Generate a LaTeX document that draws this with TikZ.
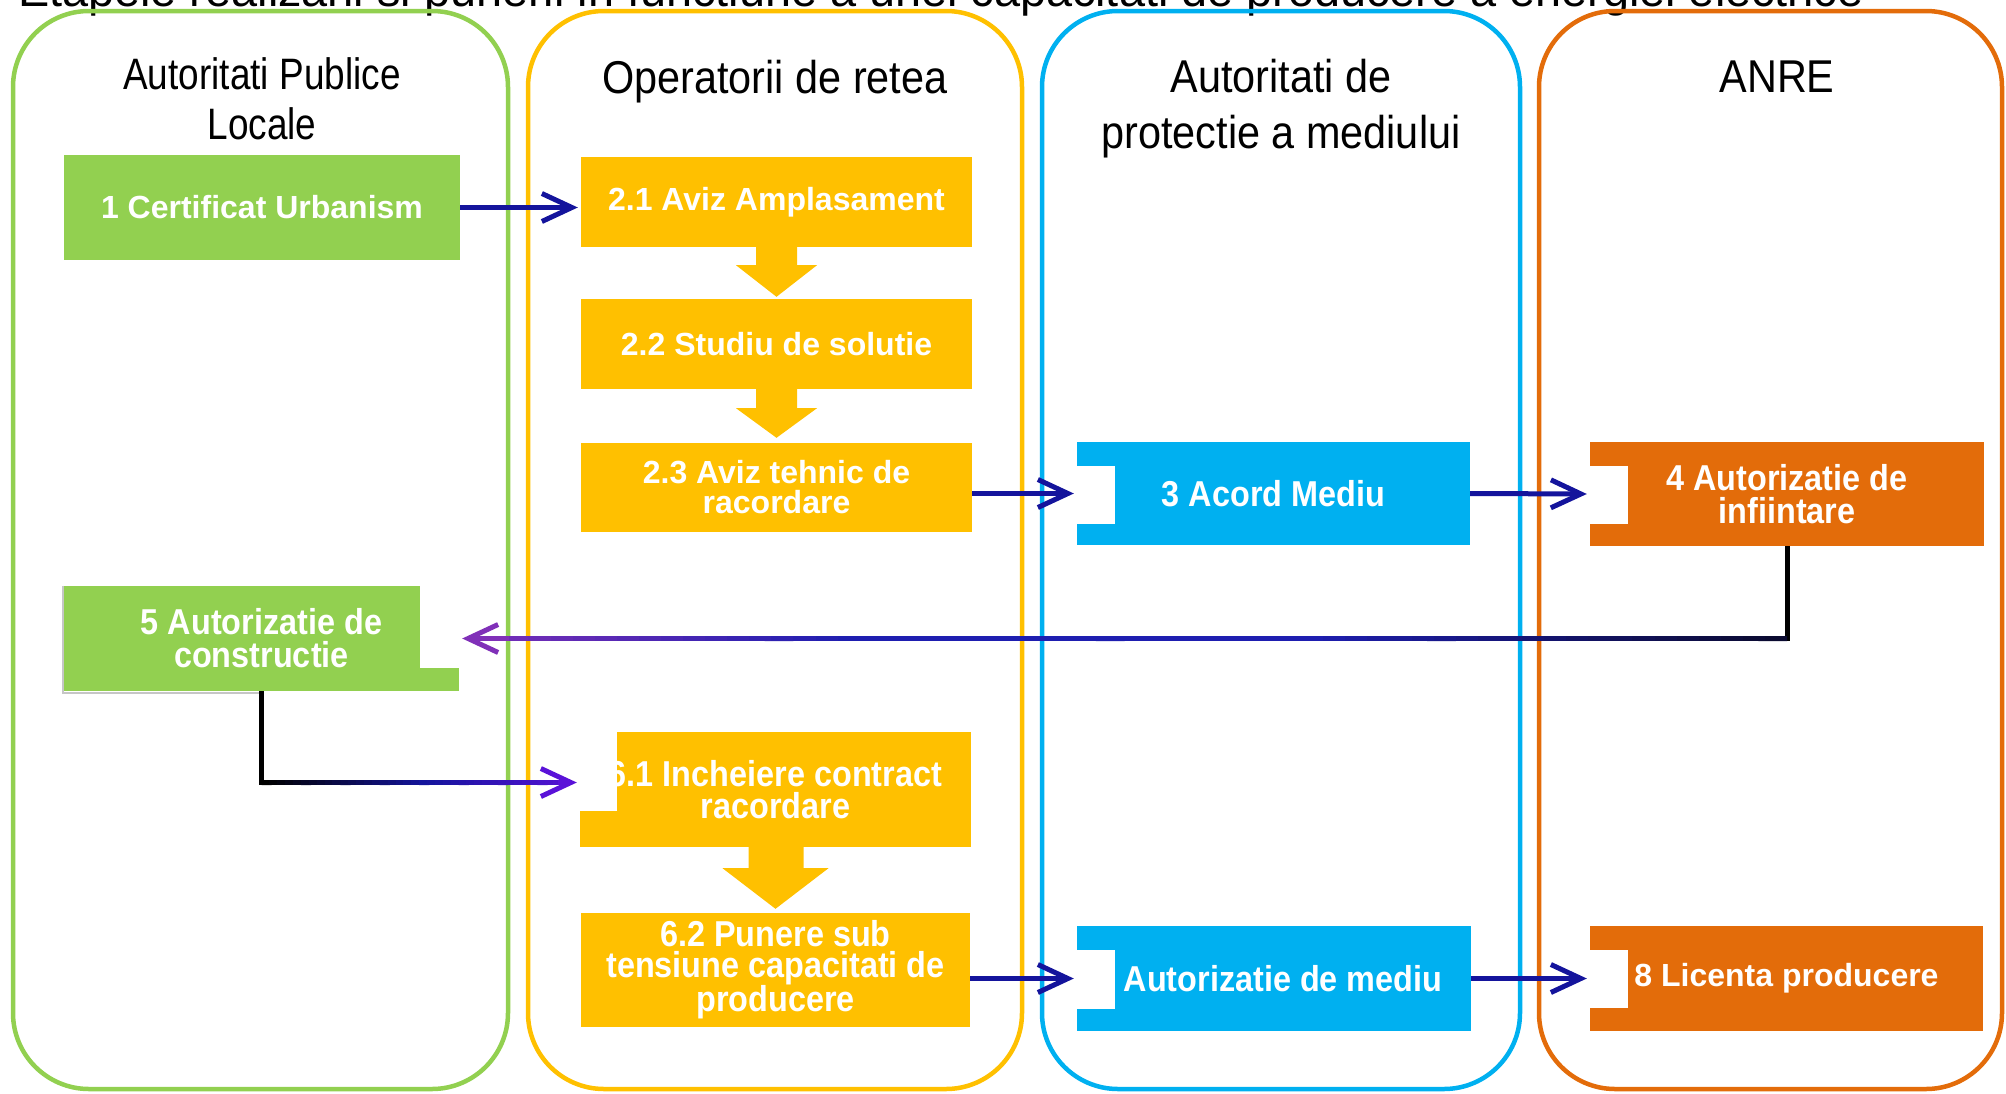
\documentclass[tikz,border=0pt]{standalone}
\usepackage{fontspec}
\usepackage{graphicx}
\setmainfont{Liberation Sans}
\newfontfamily\narrowfont{Liberation Sans}[FakeStretch=0.9]
\newfontfamily\narrowerfont{Liberation Sans}[FakeStretch=0.84]
\usetikzlibrary{arrows.meta,calc}
\definecolor{cgreen}{HTML}{92D050}
\definecolor{cyellow}{HTML}{FFC000}
\definecolor{cblue}{HTML}{00B0F0}
\definecolor{corange}{HTML}{E36C0A}
\definecolor{cnavy}{HTML}{14149C}
\definecolor{cdark}{HTML}{0A0A30}
\definecolor{cmidblue}{HTML}{1E1EB0}
\definecolor{cpurple}{HTML}{8030B8}
\definecolor{cviolet}{HTML}{5A12D8}
\tikzset{
  lane/.style={line width=4.5pt, rounded corners=76pt},
  hdr/.style={font=\narrowfont\fontsize{46}{50}\selectfont, anchor=base, inner sep=0pt},
  hdrsmall/.style={font=\narrowerfont\fontsize{44}{50}\selectfont, anchor=base, inner sep=0pt},
  stepbox/.style={rectangle, inner sep=0pt, text=white, align=center},
  boldtxt/.style={font=\fontsize{32}{#1}\selectfont\bfseries},
  boldtxt/.default=30,
  narrowtxt/.style={font=\narrowfont\fontsize{36}{#1}\selectfont\bfseries},
  narrowtxt/.default=33,
  conn/.style={draw=cnavy, line width=5pt, shorten >=3pt, -{Straight Barb[length=30pt,width=28pt]}},
  blockarrow/.style={fill=cyellow},
}
\begin{document}
\begin{tikzpicture}[x=1pt,y=-1pt]
\useasboundingbox (0,0) rectangle (2006,1093);

% title (partly cut off at the top)
\node[anchor=base west, inner sep=0pt] (title) at (18,6)
  {\resizebox{1845pt}{!}{Etapele realizarii si punerii in functiune a unei capacitati de producere a energiei electrice}};

% swimlanes
\draw[lane, draw=cgreen]  (13,11) rectangle (508,1089);
\draw[lane, draw=cyellow] (528,11) rectangle (1022,1089);
\draw[lane, draw=cblue]   (1042,11) rectangle (1520,1089);
\draw[lane, draw=corange] (1539,11) rectangle (2002,1089);

% lane headers
\node[hdrsmall] (h1a) at (262,89) {Autoritati Publice};
\node[hdrsmall] (h1b) at (262,139) {Locale};
\node[hdr] (h2) at (775,93) {Operatorii de retea};
\node[hdr] (h3a) at (1281,92) {Autoritati de};
\node[hdr] (h3b) at (1281,148) {protectie a mediului};
\node[hdr] (h4) at (1777,92) {ANRE};

% boxes
\node[stepbox, boldtxt, fill=cgreen, minimum width=396pt, minimum height=105pt] (n1) at (262,207.5) {1 Certificat Urbanism};
\node[stepbox, boldtxt, fill=cyellow, minimum width=391pt, minimum height=90pt] (n21) at (776.5,202) {2.1 Aviz Amplasament};
\node[stepbox, boldtxt, fill=cyellow, minimum width=391pt, minimum height=90pt] (n22) at (776.5,344) {2.2 Studiu de solutie};
\node[stepbox, boldtxt=30, fill=cyellow, minimum width=391pt, minimum height=89pt] (n23) at (776.5,487.5) {2.3 Aviz tehnic de\\racordare};
\node[stepbox, narrowtxt, fill=cblue, minimum width=393pt, minimum height=103pt] (n3) at (1273.5,493.5) {3 Acord Mediu};
\node[stepbox, narrowtxt=33, fill=corange, minimum width=394pt, minimum height=104pt] (n4) at (1787,494) {4 Autorizatie de\\infiintare};
\node[stepbox, narrowtxt=33, fill=cgreen, minimum width=395pt, minimum height=105pt] (n5) at (261.5,638.5) {5 Autorizatie de\\constructie};
\node[stepbox, narrowtxt=32, fill=cyellow, minimum width=391pt, minimum height=115pt] (n61) at (775.5,789.5) {6.1 Incheiere contract\\racordare};
\node[stepbox, narrowtxt=30.5, fill=cyellow, minimum width=389pt, minimum height=114pt] (n62) at (775.5,970) {6.2 Punere sub\\tensiune capacitati de\\producere};
\node[stepbox, narrowtxt, fill=cblue, minimum width=394pt, minimum height=105pt] (nmed) at (1274,978.5) {\hspace*{18pt}Autorizatie de mediu};
\node[stepbox, boldtxt, fill=corange, minimum width=393pt, minimum height=105pt] (n8) at (1786.5,978.5) {8 Licenta producere};

% grey shadow of box 5
\draw[gray!45, line width=2pt] ($(n5.north west)+(-1,0)$) |- ($(n5.south west)+(195,1.5)$);

% white notches
\fill[white] ($(n3.west)+(0,-28)$) rectangle ++(38,58);
\fill[white] ($(n4.west)+(0,-28)$) rectangle ++(38,58);
\fill[white] ($(nmed.west)+(0,-28.5)$) rectangle ++(38,59);
\fill[white] ($(n8.west)+(0,-28.5)$) rectangle ++(38,58);
\fill[white] (n5.north east) rectangle ++(-39,82);
\fill[white] (n61.north west) rectangle ++(37,79);

% yellow block arrows
\fill[blockarrow] ($(n21.south)+(-20.5,-0.5)$) -- ($(n21.south)+(20.5,-0.5)$) -- ($(n21.south)+(20.5,18)$)
  -- ($(n21.south)+(40.5,18)$) -- ($(n22.north)+(0,-2)$) -- ($(n21.south)+(-40.5,18)$) -- ($(n21.south)+(-20.5,18)$) -- cycle;
\fill[blockarrow] ($(n22.south)+(-20.5,-0.5)$) -- ($(n22.south)+(20.5,-0.5)$) -- ($(n22.south)+(20.5,19)$)
  -- ($(n22.south)+(40.5,19)$) -- ($(n23.north)+(0,-5)$) -- ($(n22.south)+(-40.5,19)$) -- ($(n22.south)+(-20.5,19)$) -- cycle;
\fill[blockarrow] ($(n61.south)+(-27,-0.5)$) -- ($(n61.south)+(28,-0.5)$) -- ($(n61.south)+(28,21)$)
  -- ($(n61.south)+(53,21)$) -- ($(n62.north)+(0,-4)$) -- ($(n61.south)+(-53,21)$) -- ($(n61.south)+(-27,21)$) -- cycle;

% straight connectors
\draw[conn] (n1.east) -- (n1.east -| n21.west);
\draw[conn] (n23.east |- n3.west) -- (n3.west);
\draw[conn] (n3.east) -- (n4.west);
\draw[conn] (n62.east |- nmed.west) -- (nmed.west);
\draw[conn] (nmed.east) -- (n8.west);

% connector 4 -> 5 (black to blue to purple)
\coordinate (c1) at (n4.south |- n5.east);
\coordinate (t1) at ($(n5.east)+(3,0)$);
\draw[black, line width=5pt] (n4.south) -- (c1) -- ++(-6,0);
\foreach \i in {0,...,57} {
  \pgfmathsetmacro\ta{\i/60}
  \pgfmathsetmacro\tb{(\i+1.3)/60}
  \pgfmathtruncatemacro\pa{min(100,\i/60/0.35*100)}
  \pgfmathtruncatemacro\pb{max(0,(\i/60-0.7)/0.3*100)}
  \colorlet{segc}{cpurple!\pb!cmidblue!\pa!cdark}
  \draw[segc, line width=5pt] ($(c1)!\ta!(t1)$) -- ($(c1)!\tb!(t1)$);
}
\draw[cpurple, line width=5pt, -{Straight Barb[length=30pt,width=28pt]}] ($(c1)!0.965!(t1)$) -- (t1);

% connector 5 -> 6.1 (black to navy to violet)
\coordinate (c2) at ($(n5.south |- n61.west)+(0,-7)$);
\coordinate (t2) at ($(n61.west)+(-3,-7)$);
\draw[black, line width=5pt] (n5.south) -- (c2) -- ++(6,0);
\foreach \i in {0,...,37} {
  \pgfmathsetmacro\ta{\i/40}
  \pgfmathsetmacro\tb{(\i+1.3)/40}
  \pgfmathtruncatemacro\pa{min(100,\i/40/0.5*100)}
  \pgfmathtruncatemacro\pb{max(0,(\i/40-0.5)/0.5*100)}
  \colorlet{segc}{cviolet!\pb!cnavy!\pa!black}
  \draw[segc, line width=5pt] ($(c2)!\ta!(t2)$) -- ($(c2)!\tb!(t2)$);
}
\draw[cviolet, line width=5pt, -{Straight Barb[length=30pt,width=28pt]}] ($(c2)!0.94!(t2)$) -- (t2);
\end{tikzpicture}
\end{document}
